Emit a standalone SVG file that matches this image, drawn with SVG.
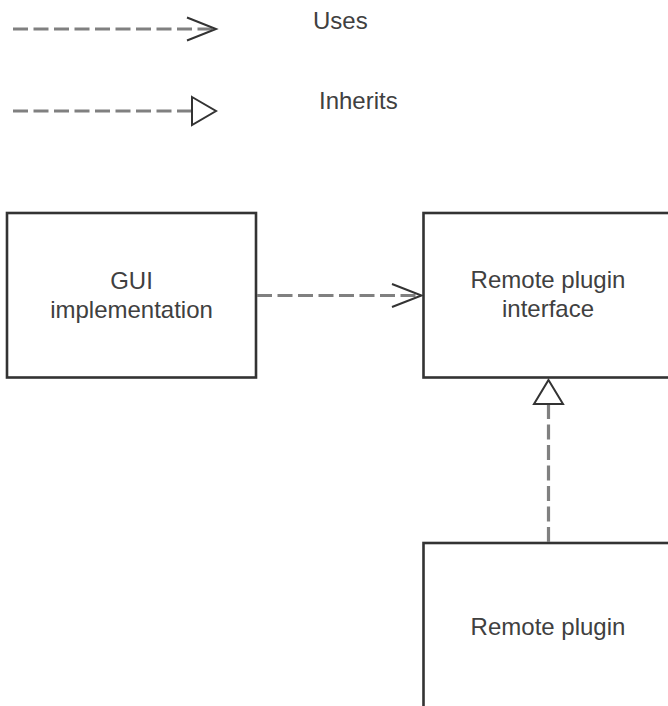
<svg xmlns="http://www.w3.org/2000/svg" width="668" height="706" viewBox="0 0 668 706">
  <style>
    .box { fill: #ffffff; stroke: #333333; stroke-width: 2.6; }
    .label { font-family: "Liberation Sans", Arial, sans-serif; font-size: 24px; fill: #404040; text-anchor: middle; }
    .legend { font-family: "Liberation Sans", Arial, sans-serif; font-size: 24px; fill: #404040; }
    .dash { fill: none; stroke: #808080; stroke-width: 3.2; stroke-dasharray: 15 5.5; }
    .open { fill: none; stroke: #333333; stroke-width: 2; stroke-linejoin: miter; }
    .tri { fill: #ffffff; stroke: #333333; stroke-width: 2; stroke-linejoin: miter; }
  </style>
  <rect width="668" height="706" fill="#ffffff"/>

  <!-- legend -->
  <g id="legend">
    <line class="dash" x1="13" y1="29" x2="214" y2="29"/>
    <polyline class="open" points="187,17.5 216,29 187,40.5"/>
    <text class="legend" x="313" y="29">Uses</text>
    <line class="dash" x1="13" y1="111" x2="192" y2="111"/>
    <polygon class="tri" points="192,97 216,111 192,125"/>
    <text class="legend" x="319" y="109">Inherits</text>
  </g>

  <!-- nodes -->
  <g id="gui-implementation">
    <rect class="box" x="7" y="213" width="249" height="164.5"/>
    <text class="label" x="131.5" y="289">GUI</text>
    <text class="label" x="131.5" y="318">implementation</text>
  </g>
  <g id="remote-plugin-interface">
    <rect class="box" x="423.5" y="213" width="249" height="164.5"/>
    <text class="label" x="548" y="288">Remote plugin</text>
    <text class="label" x="548" y="317">interface</text>
  </g>
  <g id="remote-plugin">
    <rect class="box" x="423.5" y="543" width="249" height="170"/>
    <text class="label" x="548" y="635">Remote plugin</text>
  </g>

  <!-- connectors -->
  <g id="connectors">
    <line class="dash" x1="257" y1="295.5" x2="420" y2="295.5"/>
    <polyline class="open" points="392,284 421.5,295.5 392,307"/>
    <line class="dash" x1="548.5" y1="542" x2="548.5" y2="405"/>
    <polygon class="tri" points="548.5,380 563,404 534,404"/>
  </g>
</svg>
